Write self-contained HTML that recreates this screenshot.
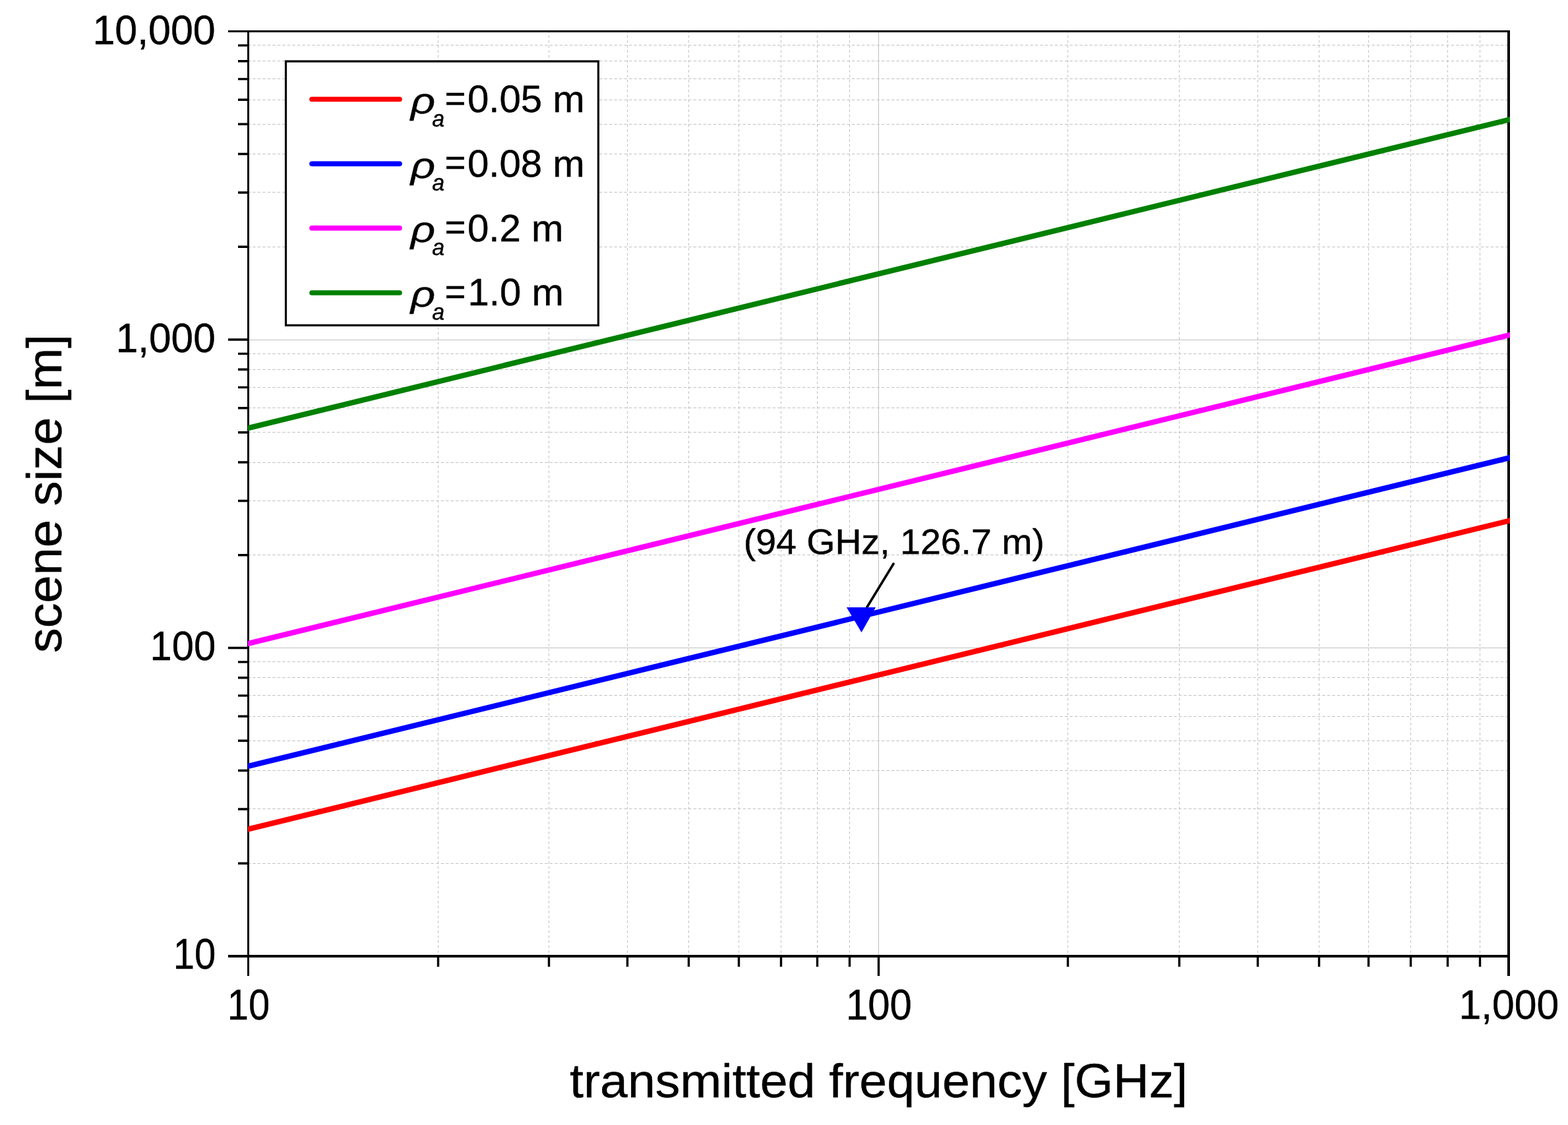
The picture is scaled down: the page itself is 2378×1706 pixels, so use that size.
<!DOCTYPE html>
<html><head><meta charset="utf-8"><title>scene size vs transmitted frequency</title><style>html,body{margin:0;padding:0;background:#fff;width:2378px;height:1706px;overflow:hidden}svg{display:block}</style></head>
<body>
<svg width="2378" height="1706" viewBox="0 0 2378 1706">
<rect width="2378" height="1706" fill="#fff"/>
<path d="M664.5 46V1448M832.5 46V1448M951.5 46V1448M1044.5 46V1448M1120.5 46V1448M1184.5 46V1448M1239.5 46V1448M1288.5 46V1448M1619.5 46V1448M1788.5 46V1448M1907.5 46V1448M2000.5 46V1448M2075.5 46V1448M2139.5 46V1448M2195.5 46V1448M2244.5 46V1448" stroke="#c0c0c0" stroke-width="1" stroke-dasharray="3.9 3.6" fill="none"/>
<path d="M375.69 1309.5H2286M375.69 1226.5H2286M375.69 1168.5H2286M375.69 1123.5H2286M375.69 1086.5H2286M375.69 1054.5H2286M375.69 1027.5H2286M375.69 1003.5H2286M375.69 841.5H2286M375.69 759.5H2286M375.69 701.5H2286M375.69 655.5H2286M375.69 618.5H2286M375.69 587.5H2286M375.69 560.5H2286M375.69 536.5H2286M375.69 374.5H2286M375.69 291.5H2286M375.69 233.5H2286M375.69 188.5H2286M375.69 151.5H2286M375.69 119.5H2286M375.69 92.5H2286M375.69 68.5H2286" stroke="#c0c0c0" stroke-width="1" stroke-dasharray="4.4 3.11" fill="none"/>
<path d="M1332.5 49V1448M378 515.5H2286M378 982.5H2286" stroke="#c0c0c0" stroke-width="1" fill="none"/>
<g stroke="#000" fill="none" stroke-linecap="butt">
<path d="M376.5 46V1480" stroke-width="3"/>
<path d="M346 1450.0H2290" stroke-width="4"/>
<path d="M346 47.5H2290" stroke-width="3"/>
<path d="M2288.0 46V1480" stroke-width="4"/>
<path d="M1332.5 1450.0V1480M376.5 515.00H346M376.5 982.50H346M664.5 1450.0V1466M832.5 1450.0V1466M951.5 1450.0V1466M1044.5 1450.0V1466M1120.5 1450.0V1466M1184.5 1450.0V1466M1239.5 1450.0V1466M1288.5 1450.0V1466M1619.5 1450.0V1466M1788.5 1450.0V1466M1907.5 1450.0V1466M2000.5 1450.0V1466M2075.5 1450.0V1466M2139.5 1450.0V1466M2195.5 1450.0V1466M2244.5 1450.0V1466M376.5 1309.27H361M376.5 1226.95H361M376.5 1168.54H361M376.5 1123.23H361M376.5 1086.21H361M376.5 1054.92H361M376.5 1027.81H361M376.5 1003.89H361M376.5 841.77H361M376.5 759.45H361M376.5 701.04H361M376.5 655.73H361M376.5 618.71H361M376.5 587.42H361M376.5 560.31H361M376.5 536.39H361M376.5 374.27H361M376.5 291.95H361M376.5 233.54H361M376.5 188.23H361M376.5 151.21H361M376.5 119.92H361M376.5 92.81H361M376.5 68.89H361" stroke-width="3.4"/>
</g>
<defs><clipPath id="pc"><rect x="376" y="40" width="1914" height="1420"/></clipPath></defs>
<g clip-path="url(#pc)">
<path d="M370.0 1258.94L2296.0 787.89" stroke="#ff0000" stroke-width="8.2" fill="none"/>
<path d="M370.0 1163.51L2296.0 692.47" stroke="#0000ff" stroke-width="8.2" fill="none"/>
<path d="M370.0 977.47L2296.0 506.43" stroke="#ff00ff" stroke-width="8.2" fill="none"/>
<path d="M370.0 650.71L2296.0 179.66" stroke="#008000" stroke-width="8.2" fill="none"/>
</g>
<path d="M1355.8 853.8L1314.4 921.5" stroke="#000" stroke-width="3.6" fill="none"/>
<path d="M1283.9 921H1328.1L1306.5 959Z" fill="#0000ff"/>
<rect x="433.5" y="93" width="473.9" height="400.3" fill="#fff" stroke="#000" stroke-width="3.2"/>
<path d="M473 150.5H606" stroke="#ff0000" stroke-width="7.7" stroke-linecap="round"/>
<path d="M473 248.3H606" stroke="#0000ff" stroke-width="7.7" stroke-linecap="round"/>
<path d="M473 345.9H606" stroke="#ff00ff" stroke-width="7.7" stroke-linecap="round"/>
<path d="M473 444H606" stroke="#008000" stroke-width="7.7" stroke-linecap="round"/>
<g stroke="#000" stroke-width="0.45" stroke-linejoin="round">
<text transform="matrix(0.96691 0 0 1.01167 326.718 66.522)" font-family="Liberation Sans, sans-serif" font-size="63" text-anchor="end">10,000</text>
<text transform="matrix(0.95708 0 0 1.00075 326.688 533.556)" font-family="Liberation Sans, sans-serif" font-size="63" text-anchor="end">1,000</text>
<text transform="matrix(0.94731 0 0 0.99826 327.121 1000.752)" font-family="Liberation Sans, sans-serif" font-size="63" text-anchor="end">100</text>
<text transform="matrix(0.91958 0 0 1.01736 327.145 1468.763)" font-family="Liberation Sans, sans-serif" font-size="63" text-anchor="end">10</text>
<text transform="matrix(0.91766 0 0 1.01730 376.915 1545.760)" font-family="Liberation Sans, sans-serif" font-size="63" text-anchor="middle">10</text>
<text transform="matrix(0.95114 0 0 1.01669 1332.883 1545.744)" font-family="Liberation Sans, sans-serif" font-size="63" text-anchor="middle">100</text>
<text transform="matrix(0.96231 0 0 1.00653 2288.367 1545.306)" font-family="Liberation Sans, sans-serif" font-size="63" text-anchor="middle">1,000</text>
<text transform="matrix(1.00886 0 0 0.97851 1355.833 839.919)" font-family="Liberation Sans, sans-serif" font-size="55" text-anchor="middle">(94 GHz, 126.7 m)</text>
<text transform="matrix(1.00383 0 0 0.97490 1332.620 1663.761)" font-family="Liberation Sans, sans-serif" font-size="75" text-anchor="middle">transmitted frequency [GHz]</text>
<text transform="matrix(0.95844 0 0 0.96812 674.499 167.569)" font-family="Liberation Sans, sans-serif" font-size="57" text-anchor="start">=</text>
<text transform="matrix(1.02053 0 0 1.00322 708.929 170.314)" font-family="Liberation Sans, sans-serif" font-size="57" text-anchor="start">0.05 m</text>
<text transform="matrix(1.14412 0 0 0.94515 622.631 172.286)" font-family="Liberation Sans, sans-serif" font-style="italic" font-size="57" text-anchor="start">ρ</text>
<text transform="matrix(0.99740 0 0 1.01412 655.260 191.582)" font-family="Liberation Sans, sans-serif" font-style="italic" font-size="34" text-anchor="start">a</text>
<text transform="matrix(0.95844 0 0 0.96812 674.499 265.484)" font-family="Liberation Sans, sans-serif" font-size="57" text-anchor="start">=</text>
<text transform="matrix(1.02025 0 0 1.00335 708.932 268.238)" font-family="Liberation Sans, sans-serif" font-size="57" text-anchor="start">0.08 m</text>
<text transform="matrix(1.14412 0 0 0.94515 622.631 270.201)" font-family="Liberation Sans, sans-serif" font-style="italic" font-size="57" text-anchor="start">ρ</text>
<text transform="matrix(0.99740 0 0 1.01412 655.260 289.497)" font-family="Liberation Sans, sans-serif" font-style="italic" font-size="34" text-anchor="start">a</text>
<text transform="matrix(0.95844 0 0 0.96812 674.499 363.399)" font-family="Liberation Sans, sans-serif" font-size="57" text-anchor="start">=</text>
<text transform="matrix(1.02222 0 0 1.00376 708.914 366.163)" font-family="Liberation Sans, sans-serif" font-size="57" text-anchor="start">0.2 m</text>
<text transform="matrix(1.14412 0 0 0.94515 622.631 367.416)" font-family="Liberation Sans, sans-serif" font-style="italic" font-size="57" text-anchor="start">ρ</text>
<text transform="matrix(0.99740 0 0 1.01412 655.260 387.412)" font-family="Liberation Sans, sans-serif" font-style="italic" font-size="34" text-anchor="start">a</text>
<text transform="matrix(0.95844 0 0 0.96812 674.499 460.614)" font-family="Liberation Sans, sans-serif" font-size="57" text-anchor="start">=</text>
<text transform="matrix(1.01867 0 0 1.00475 709.575 463.370)" font-family="Liberation Sans, sans-serif" font-size="57" text-anchor="start">1.0 m</text>
<text transform="matrix(1.14412 0 0 0.94515 622.631 465.331)" font-family="Liberation Sans, sans-serif" font-style="italic" font-size="57" text-anchor="start">ρ</text>
<text transform="matrix(0.99740 0 0 1.01412 655.260 484.627)" font-family="Liberation Sans, sans-serif" font-style="italic" font-size="34" text-anchor="start">a</text>
<text transform="matrix(0 -1.00831 1.00024 0 92.618 748.383)" font-family="Liberation Sans, sans-serif" font-size="75" text-anchor="middle">scene size [m]</text>
</g>
</svg>
</body></html>
